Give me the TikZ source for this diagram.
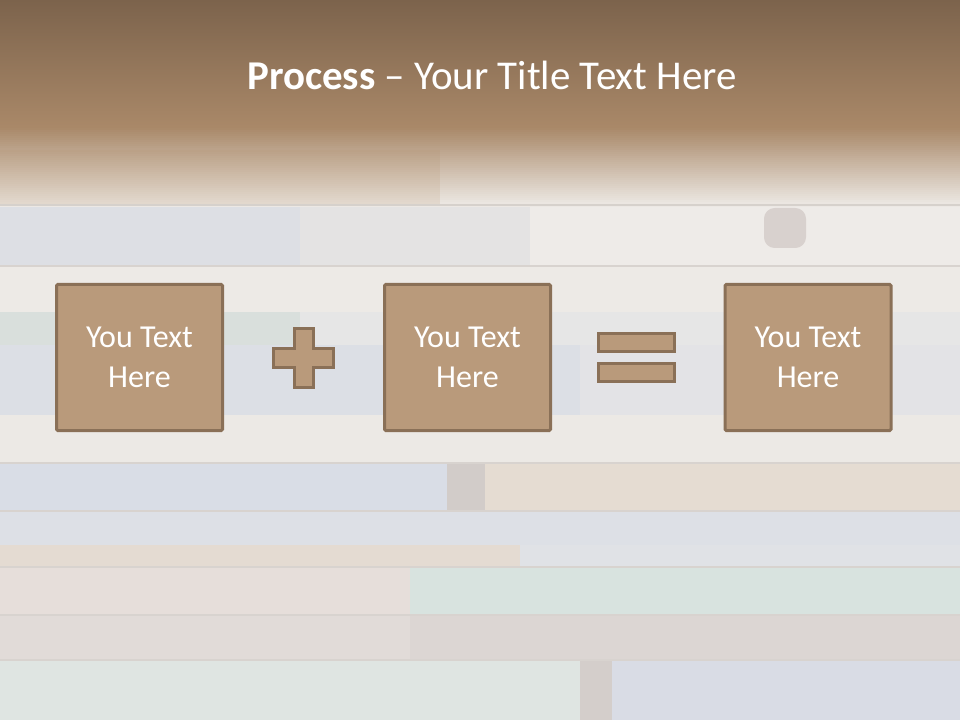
\documentclass[tikz,border=0pt]{standalone}
\usepackage{fontspec}
\setmainfont{Carlito}
\begin{document}
\definecolor{bgbase}{HTML}{ECE8E4}
\definecolor{titletop}{HTML}{7C634C}
\definecolor{titlebot}{HTML}{A98868}
\definecolor{boxfill}{HTML}{B99A7B}
\definecolor{boxline}{HTML}{8A7057}
\definecolor{plank}{HTML}{D8D3CF}
\begin{tikzpicture}[x=0.75pt,y=-0.75pt,
  procbox/.style={draw=boxline,fill=boxfill,line width=2.25pt,rounded corners=1pt,
    minimum width=124.5pt,minimum height=109.5pt,inner sep=0pt,
    text=white,align=center,font=\fontsize{24}{30}\selectfont},
  opshape/.style={draw=boxline,fill=boxfill,line width=2.25pt},
  eqbar/.style={opshape,minimum width=57pt,minimum height=13.5pt,inner sep=0pt},
  planklines/.style={draw=plank,line width=0.9pt}]
\useasboundingbox (0,0) rectangle (960,720);
% background wood
\fill[bgbase] (0,0) rectangle (960,720);
\fill[color={rgb,255:red,230;green,221;blue,211}] (0,150) rectangle (440,205);
\fill[color={rgb,255:red,239;green,236;blue,232}] (440,150) rectangle (960,205);
\fill[color={rgb,255:red,221;green,223;blue,228}] (0,207) rectangle (300,265);
\fill[color={rgb,255:red,228;green,227;blue,227}] (300,207) rectangle (530,265);
\fill[color={rgb,255:red,238;green,235;blue,232}] (530,207) rectangle (960,265);
\fill[color={rgb,255:red,216;green,209;blue,206},rounded corners=8pt] (764,208) rectangle (806,248);
\fill[color={rgb,255:red,237;green,234;blue,230}] (0,267) rectangle (960,312);
\fill[color={rgb,255:red,217;green,223;blue,220}] (0,312) rectangle (300,345);
\fill[color={rgb,255:red,230;green,230;blue,230}] (300,312) rectangle (960,345);
\fill[color={rgb,255:red,220;green,223;blue,229}] (0,345) rectangle (580,415);
\fill[color={rgb,255:red,227;green,227;blue,230}] (580,345) rectangle (960,415);
\fill[color={rgb,255:red,236;green,233;blue,229}] (0,415) rectangle (960,463);
\fill[color={rgb,255:red,217;green,221;blue,230}] (0,463) rectangle (447,510);
\fill[color={rgb,255:red,210;green,204;blue,201}] (447,463) rectangle (485,510);
\fill[color={rgb,255:red,229;green,220;blue,210}] (485,463) rectangle (960,510);
\fill[color={rgb,255:red,221;green,224;blue,230}] (0,512) rectangle (960,545);
\fill[color={rgb,255:red,228;green,219;blue,210}] (0,545) rectangle (520,567);
\fill[color={rgb,255:red,224;green,226;blue,230}] (520,545) rectangle (960,567);
\fill[color={rgb,255:red,230;green,222;blue,218}] (0,567) rectangle (410,615);
\fill[color={rgb,255:red,216;green,227;blue,223}] (410,567) rectangle (960,615);
\fill[color={rgb,255:red,225;green,219;blue,216}] (0,615) rectangle (410,660);
\fill[color={rgb,255:red,220;green,214;blue,211}] (410,615) rectangle (960,660);
\fill[color={rgb,255:red,223;green,229;blue,226}] (0,660) rectangle (580,720);
\fill[color={rgb,255:red,212;green,206;blue,203}] (580,660) rectangle (612,720);
\fill[color={rgb,255:red,217;green,220;blue,229}] (612,660) rectangle (960,720);
\foreach \yy in {205,266,463,511,567,615,660} {\draw[planklines] (0,\yy) -- (960,\yy);}
% title band
\shade[top color=titletop,bottom color=titlebot] (0,0) rectangle (960,126);
\foreach \i in {0,...,39} {\fill[titlebot,opacity={1-\i/40}] (0,126+2*\i) rectangle (960,128.2+2*\i);}
\node[text=white,font=\fontsize{30.7}{36}\selectfont] (title) at (492,75) {\textbf{Process} – Your Title Text Here};
% process
\node[procbox] (b1) at (139.5,357.5) {You Text\\Here};
\node[procbox] (b2) at (467.5,357.5) {You Text\\Here};
\node[procbox] (b3) at (808,357.5) {You Text\\Here};
\draw[opshape] (294.5,328.5) -- (313.5,328.5) -- (313.5,348.5) -- (333.5,348.5) -- (333.5,367.5) -- (313.5,367.5) -- (313.5,387.5) -- (294.5,387.5) -- (294.5,367.5) -- (273.5,367.5) -- (273.5,348.5) -- (294.5,348.5) -- cycle;
\node[eqbar] (eq1) at (636.5,342.5) {};
\node[eqbar] (eq2) at (636.5,372) {};
\end{tikzpicture}
\end{document}
